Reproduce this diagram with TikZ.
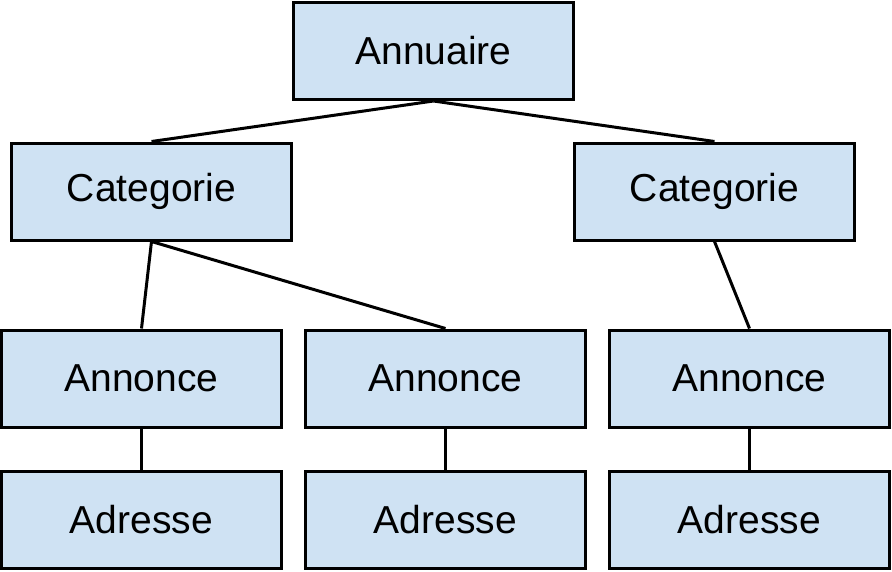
\documentclass[tikz,border=0pt]{standalone}
\usepackage{fontspec}
\setmainfont{Liberation Sans}
\definecolor{boxfill}{HTML}{CFE2F3}
\begin{document}
\begin{tikzpicture}[x=1pt,y=-1pt,
  box/.style={draw=black,fill=boxfill,line width=3pt,minimum width=280pt,minimum height=97pt,inner sep=0pt,font=\fontsize{39pt}{44pt}\selectfont},
  link/.style={line width=3pt}]
\useasboundingbox (0,0) rectangle (892,571);
\node[box] (ann) at (433.5,51) {Annuaire};
\node[box] (catl) at (151.5,191.5) {Categorie};
\node[box] (catr) at (714.5,191.5) {Categorie};
\node[box] (an1) at (141.5,378.5) {Annonce};
\node[box] (an2) at (445.5,378.5) {Annonce};
\node[box] (an3) at (749.5,378.5) {Annonce};
\node[box] (ad1) at (141.5,519.5) {Adresse};
\node[box] (ad2) at (445.5,519.5) {Adresse};
\node[box] (ad3) at (749.5,519.5) {Adresse};
\draw[link] (ann.south) -- (catl.north);
\draw[link] (ann.south) -- (catr.north);
\draw[link] (catl.south) -- (an1.north);
\draw[link] (catl.south) -- (an2.north);
\draw[link] (catr.south) -- (an3.north);
\draw[link] (an1.south) -- (ad1.north);
\draw[link] (an2.south) -- (ad2.north);
\draw[link] (an3.south) -- (ad3.north);
\end{tikzpicture}
\end{document}
